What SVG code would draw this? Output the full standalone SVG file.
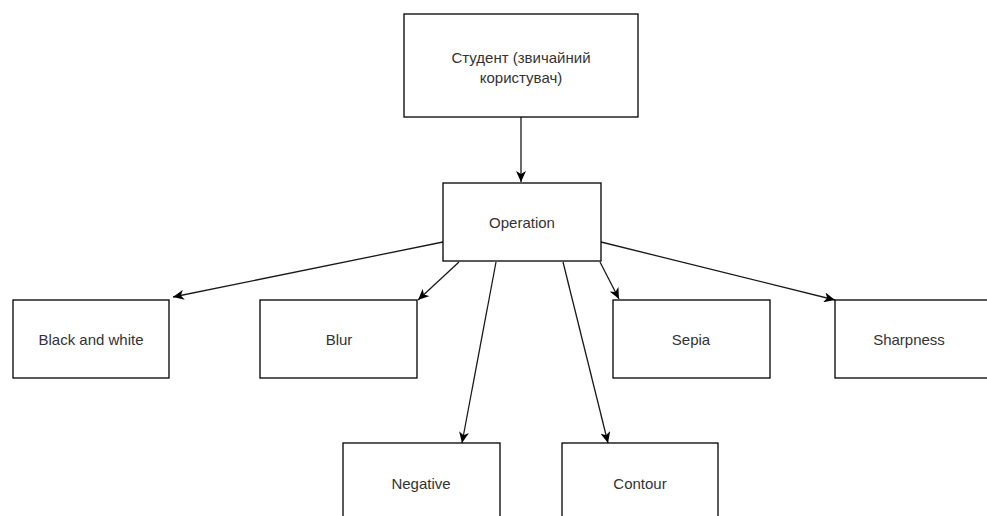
<svg xmlns="http://www.w3.org/2000/svg" width="987" height="516" viewBox="0 0 987 516">
<defs>
<style>
.box{fill:#fff;stroke:#000;stroke-width:1.3}
.t{font-family:"Liberation Sans",Arial,sans-serif;font-size:15px;fill:#333;text-anchor:middle;dominant-baseline:central}
.c{stroke:#1a1a1a;stroke-width:1.3;fill:none;marker-end:url(#arr)}
</style>
<marker id="arr" markerUnits="userSpaceOnUse" markerWidth="12" markerHeight="10" refX="11" refY="5" orient="auto" viewBox="0 0 12 10">
<path d="M0,0 L11,5 L0,10 L3,5 Z" fill="#000"/>
</marker>
</defs>
<rect width="987" height="516" fill="#fff"/>
<g id="connectors">
<line class="c" x1="521" y1="117" x2="521" y2="182"/>
<line class="c" x1="443" y1="242" x2="173" y2="297"/>
<line class="c" x1="459" y1="262" x2="418" y2="300"/>
<line class="c" x1="496" y1="262" x2="462" y2="443"/>
<line class="c" x1="563" y1="262" x2="608" y2="443"/>
<line class="c" x1="600" y1="262" x2="619" y2="299"/>
<line class="c" x1="601" y1="242" x2="835" y2="300"/>
</g>
<g id="student">
<rect class="box" x="404" y="14" width="234" height="103"/>
<text class="t" x="521" y="57">Студент (звичайний</text>
<text class="t" x="521" y="77">користувач)</text>
</g>
<g id="operation">
<rect class="box" x="443" y="183" width="158" height="78"/>
<text class="t" x="522" y="222">Operation</text>
</g>
<g id="bw">
<rect class="box" x="13" y="300" width="156" height="78"/>
<text class="t" x="91" y="339">Black and white</text>
</g>
<g id="blur">
<rect class="box" x="260" y="300" width="157" height="78"/>
<text class="t" x="339" y="339">Blur</text>
</g>
<g id="sepia">
<rect class="box" x="613" y="300" width="157" height="78"/>
<text class="t" x="691" y="339">Sepia</text>
</g>
<g id="sharpness">
<rect class="box" x="835" y="300" width="157" height="78"/>
<text class="t" x="909" y="339">Sharpness</text>
</g>
<g id="negative">
<rect class="box" x="343" y="443" width="157" height="80"/>
<text class="t" x="421" y="483">Negative</text>
</g>
<g id="contour">
<rect class="box" x="562" y="443" width="156" height="80"/>
<text class="t" x="640" y="483">Contour</text>
</g>
</svg>
